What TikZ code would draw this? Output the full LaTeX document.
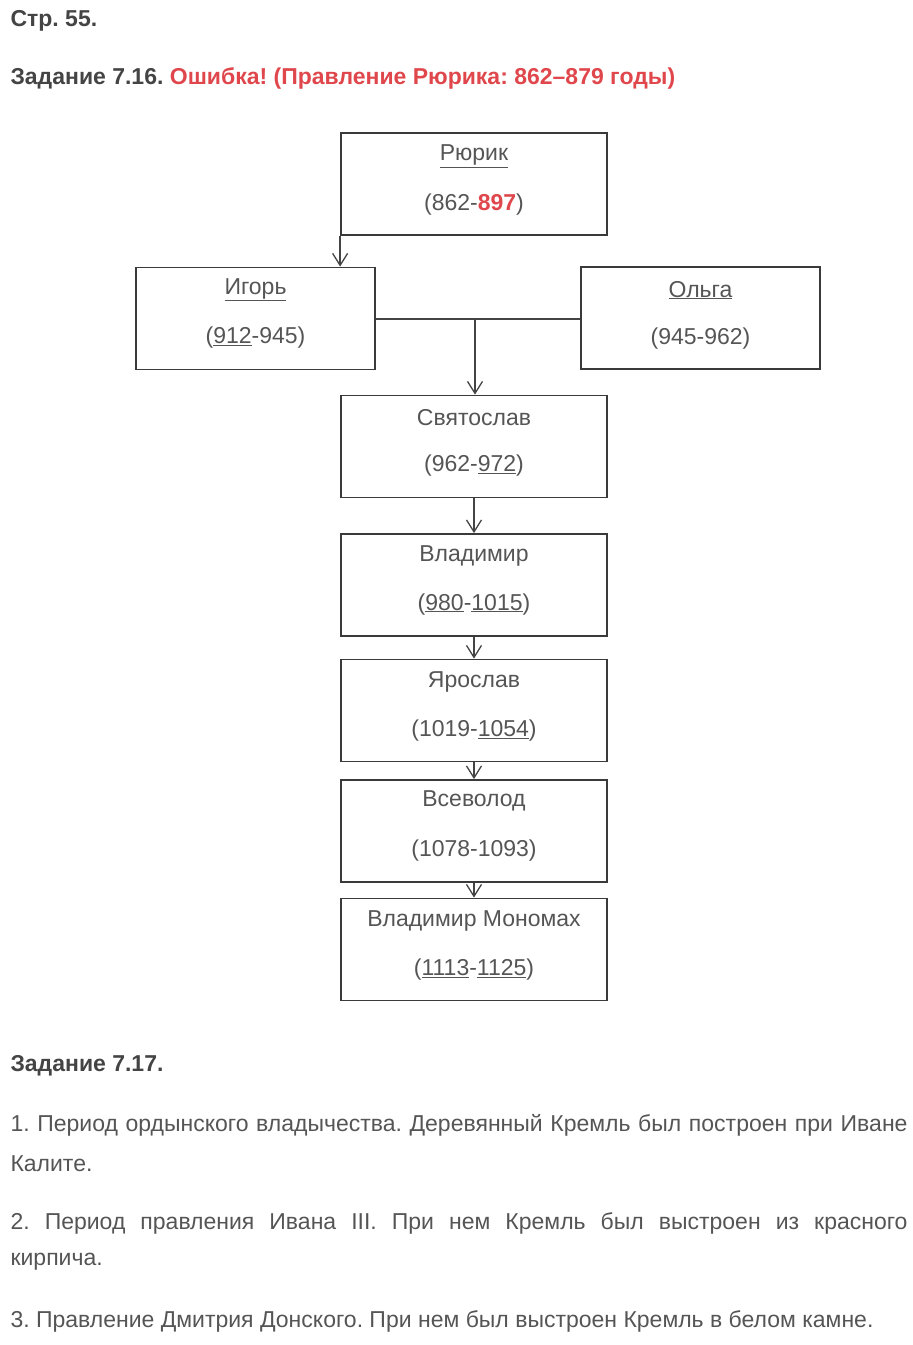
\documentclass[tikz,border=0pt]{standalone}
\usepackage{fontspec}
\setmainfont{Liberation Sans}
\usetikzlibrary{arrows.meta,positioning}
\definecolor{inkgray}{HTML}{555555}
\definecolor{darkink}{HTML}{444444}
\definecolor{boxline}{HTML}{3A3A3A}
\definecolor{errred}{HTML}{E0474C}
\frenchspacing

\tikzset{
  ruler/.style={draw=boxline, line width=1.8pt, minimum width=266pt, minimum height=102pt},
  wide/.style={ruler, minimum width=239pt},
  rname/.style={text=inkgray, font=\fontsize{23}{26}\selectfont},
  body/.style={anchor=west, text=inkgray, font=\fontsize{23}{26}\selectfont},
  head/.style={anchor=west, text=darkink, font=\bfseries\fontsize{23}{26}\selectfont},
  succ/.style={draw=darkink, line width=1.3pt, -{Straight Barb[length=12pt,width=15pt]}}
}

\begin{document}
\begin{tikzpicture}[x=1pt,y=-1pt]
\useasboundingbox (0,0) rectangle (913,1345);

% Headings
\node[head] (page) at (7,21) {Стр. 55.};
\node[head] (task16) at (7,78) {Задание 7.16. \textcolor{errred}{Ошибка! (Правление Рюрика: 862–879 годы)}};

% Rulers
\node[ruler] (rurik) at (474,184) {};
\node[wide] (igor) at (255.5,318.5) {};
\node[wide] (olga) at (700.5,318) {};
\node[ruler] (svyat) at (474,446.5) {};
\node[ruler] (vlad) at (474,585) {};
\node[ruler] (yarosl) at (474,710.5) {};
\node[ruler] (vsevol) at (474,831) {};
\node[ruler] (monomakh) at (474,949.5) {};

% Names and years
\node[rname] (rurikN) at ([yshift=-24pt]rurik.north) {\underline{Рюрик}};
\node[rname] (rurikY) at ([yshift=-72pt]rurik.north) {(862-\textcolor{errred}{\bfseries 897})};
\node[rname] (igorN) at ([yshift=-23pt]igor.north) {\underline{Игорь}};
\node[rname] (igorY) at ([yshift=-71pt]igor.north) {(\underline{912}-945)};
\node[rname] (olgaN) at ([yshift=-24pt]olga.north) {\underline{Ольга}};
\node[rname] (olgaY) at ([yshift=-72pt]olga.north) {(945-962)};
\node[rname] (svyatN) at ([yshift=-23pt]svyat.north) {Святослав};
\node[rname] (svyatY) at ([yshift=-71pt]svyat.north) {(962-\underline{972})};
\node[rname] (vladN) at ([yshift=-23pt]vlad.north) {Владимир};
\node[rname] (vladY) at ([yshift=-71pt]vlad.north) {(\underline{980}-\underline{1015})};
\node[rname] (yaroslN) at ([yshift=-23pt]yarosl.north) {Ярослав};
\node[rname] (yaroslY) at ([yshift=-72pt]yarosl.north) {(1019-\underline{1054})};
\node[rname] (vsevolN) at ([yshift=-22pt]vsevol.north) {Всеволод};
\node[rname] (vsevolY) at ([yshift=-71pt]vsevol.north) {(1078-1093)};
\node[rname] (monomakhN) at ([yshift=-23pt]monomakh.north) {Владимир Мономах};
\node[rname] (monomakhY) at ([yshift=-72pt]monomakh.north) {(\underline{1113}-\underline{1125})};

% Connectors
\coordinate (wed) at (475,319);
\draw[succ] (rurik.south west) -- (rurik.south west |- igor.north);
\draw[draw=darkink, line width=1.3pt] (igor.east |- wed) -- (olga.west |- wed);
\draw[succ] (wed) -- (wed |- svyat.north);
\draw[succ] (svyat.south) -- (vlad.north);
\draw[succ] (vlad.south) -- (yarosl.north);
\draw[succ] (yarosl.south) -- (vsevol.north);
\draw[succ] (vsevol.south) -- (monomakh.north);

% Task 7.17
\node[head] (task17) at (7,1066) {Задание 7.17.};
\node[body] (line1) at (7,1125) {\makebox[897pt][s]{1. Период ордынского владычества. Деревянный Кремль был построен при Иване}};
\node[body] (line2) at (7,1164) {Калите.};
\node[body] (line3) at (7,1223) {\makebox[897pt][s]{2. Период правления Ивана III. При нем Кремль был выстроен из красного}};
\node[body] (line4) at (7,1262) {кирпича.};
\node[body] (line5) at (7,1321) {3. Правление Дмитрия Донского. При нем был выстроен Кремль в белом камне.};
\end{tikzpicture}
\end{document}
